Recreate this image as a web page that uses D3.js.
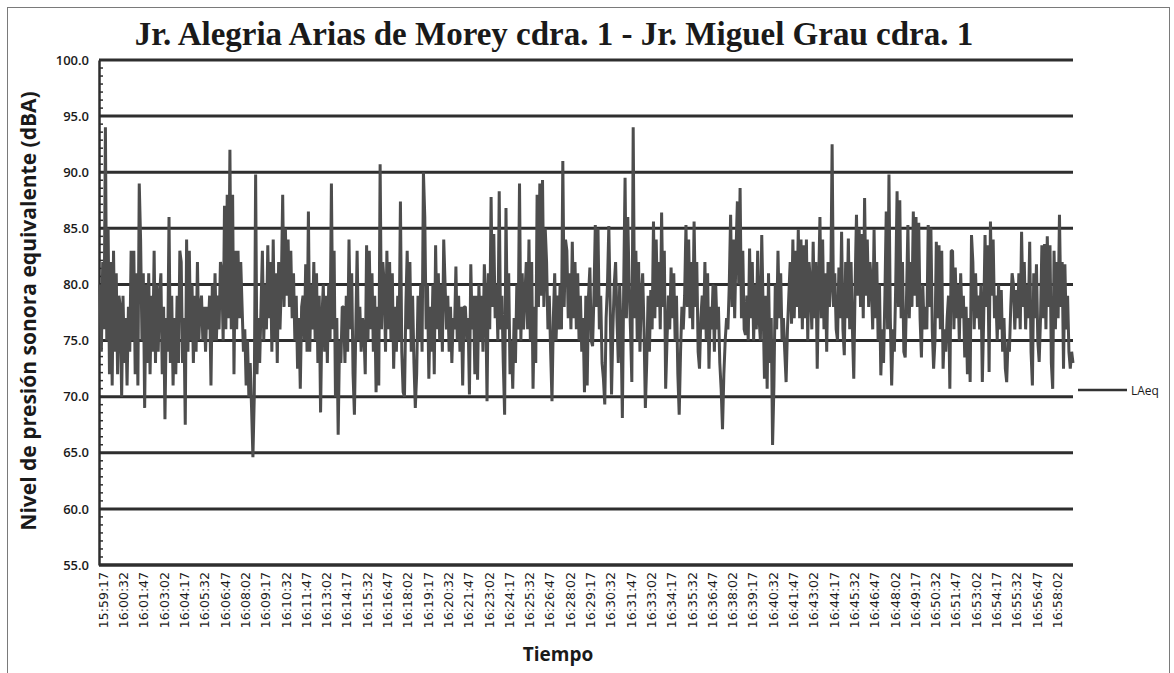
<!DOCTYPE html>
<html>
<head>
<meta charset="utf-8">
<script src="https://cdn.jsdelivr.net/npm/d3@7/dist/d3.min.js"></script>
<style>
  body { margin: 0; background: #fff; }
  svg { display: block; }
</style>
</head>
<body>
<div id="viz"></div>
<script>
const OUTER_WIDTH = 1174;
const OUTER_HEIGHT = 673;
const PLOT = { left: 99, right: 1073, top: 60, bottom: 565 };

const chartTitle = 'Jr. Alegria Arias de Morey cdra. 1 - Jr. Miguel Grau cdra. 1';
const seriesName = 'LAeq';
const yTicks = [55, 60, 65, 70, 75, 80, 85, 90, 95, 100];

// one label every 15 readings (75 s)
const tickLabels = [
  '15:59:17', '16:00:32', '16:01:47', '16:03:02', '16:04:17', '16:05:32', '16:06:47', '16:08:02',
  '16:09:17', '16:10:32', '16:11:47', '16:13:02', '16:14:17', '16:15:32', '16:16:47', '16:18:02',
  '16:19:17', '16:20:32', '16:21:47', '16:23:02', '16:24:17', '16:25:32', '16:26:47', '16:28:02',
  '16:29:17', '16:30:32', '16:31:47', '16:33:02', '16:34:17', '16:35:32', '16:36:47', '16:38:02',
  '16:39:17', '16:40:32', '16:41:47', '16:43:02', '16:44:17', '16:45:32', '16:46:47', '16:48:02',
  '16:49:17', '16:50:32', '16:51:47', '16:53:02', '16:54:17', '16:55:32', '16:56:47', '16:58:02'
];
const LABEL_EVERY = 15;

// LAeq readings (dBA), one row per label interval
const laeq = [
  80, 74, 82, 76, 94, 75, 85, 72, 82, 71, 83, 74, 81, 72, 79,
  78, 70, 79, 73, 77, 71, 78, 74, 83, 75, 83, 72, 81, 71, 89,
  84, 75, 81, 69, 80, 73, 81, 72, 79, 74, 83, 73, 80, 74, 79,
  81, 72, 78, 68, 77, 74, 86, 73, 79, 71, 77, 72, 79, 73, 83,
  82, 73, 77, 67.5, 84, 74, 83, 75, 80, 73, 79, 74, 82, 75, 78,
  79, 75, 78, 74, 78, 76, 79, 71, 80, 75, 81, 75, 79, 76, 82,
  81, 75, 87, 76, 88, 77, 92, 76, 88, 72, 83, 76, 83, 77, 82,
  78, 74, 76, 71, 75, 70, 73, 69, 64.6, 70, 89.8, 72, 77, 73, 78,
  83, 75, 80, 76, 83.5, 77, 82, 74, 84, 75, 81, 73, 82, 76, 80,
  88, 78, 85, 79, 84, 78, 83, 77, 81, 75, 79, 72.5, 77, 70.7, 78,
  79, 75, 81.8, 74, 86.5, 74, 80, 76, 82, 75, 81, 73, 79, 68.6, 77,
  80, 74, 79, 73, 80, 75, 89, 76, 83, 70, 77, 66.6, 75, 73, 78,
  78, 73, 79, 74, 84, 76, 81, 72, 68.4, 76, 83, 75, 78, 74, 77,
  76, 72, 83.5, 75, 83, 76, 81, 74, 79, 70.4, 78, 71, 90.7, 76, 82,
  80, 74, 83, 76, 82, 75, 81, 72.5, 78, 74, 79, 75, 87.4, 74, 70.4,
  70, 78, 83, 76, 82, 74, 79, 73, 69, 72, 79, 75, 80, 74, 90,
  86, 76, 80, 71.6, 78, 74, 80, 72, 83.5, 76, 81, 75, 80, 74, 84,
  80, 76, 79, 74, 78, 73, 77, 76, 81.6, 75, 79, 74, 78, 71, 78,
  78, 75, 77, 70.2, 81.8, 76, 79, 72, 79, 71.5, 80, 75, 79, 74, 81.8,
  79, 69.6, 81, 76, 87.8, 78, 84.5, 77, 80, 75, 88.3, 76, 79, 73, 68.4,
  86.8, 76, 81, 72, 75, 70.7, 77, 73, 80, 76, 89, 75, 81, 76, 79,
  82, 76, 84, 75, 82, 70.7, 78, 73, 88, 78, 89, 79, 89.3, 78, 85,
  82, 76, 79, 74, 69.6, 77, 81, 75, 79, 76, 80, 76, 91, 78, 84,
  83, 77, 81, 76, 83.8, 77, 82, 76, 81, 75, 79, 74, 77, 70.4, 79,
  71, 79, 81.5, 75, 74.5, 79, 85.3, 78, 85, 76, 79, 73, 71.6, 69.3, 77,
  80, 85.2, 78, 70.2, 76, 80, 82, 77, 73, 80, 76, 68.1, 80, 89.5, 77,
  86, 80, 76, 71.3, 94, 77, 83, 75, 82, 74, 79, 81, 76, 69, 73,
  79, 74, 79.5, 76, 85.6, 77, 84, 78, 82, 76, 86.4, 78, 83, 70.7, 75,
  79, 76, 81.5, 77, 81, 75, 79, 72, 68.4, 74, 78, 76, 79, 85.3, 78,
  84, 77, 82, 76, 85.6, 78, 82, 74, 72.5, 77, 79, 76, 82, 75, 81,
  72.5, 78, 76, 80, 74, 79.9, 76, 78, 73, 70.7, 67.1, 72, 75, 77, 76,
  80, 86.2, 78, 84, 77, 83, 87.4, 80, 88.6, 77, 83, 76, 75.5, 79, 75,
  83.2, 77, 82, 75, 80, 76, 83, 77, 75, 84.4, 78, 71.6, 79, 70.7, 81,
  73, 77, 65.7, 71, 80, 76, 83, 77, 81, 75, 77, 74, 71.3, 76, 79,
  82, 76.5, 84, 77, 83, 78, 84.9, 77, 84, 76, 83.5, 77, 84, 75, 82,
  80, 76, 83.8, 77, 82, 72.5, 80, 86, 77, 84, 76, 81, 74, 82, 78,
  80, 92.5, 78, 81, 76, 75, 81.5, 77, 84.7, 76, 73.7, 82, 77, 84.1, 76,
  82, 76, 71.6, 80, 86.2, 79, 85, 78, 84.5, 77, 87.7, 79, 84, 78, 82,
  80, 76, 84.9, 77, 82, 75, 80, 71.9, 76, 73, 79, 86.5, 76, 89.8, 77,
  71, 76, 74, 80, 88.3, 78, 87.5, 77, 82, 74, 73.5, 79, 85.3, 77, 82,
  78, 86.5, 79, 86, 78, 85.5, 77, 73.5, 80, 76, 78, 76, 85.3, 78, 85,
  76, 72.5, 75, 83.8, 77, 83.5, 76, 83, 72.5, 76, 74, 77, 79, 70.7, 83,
  83, 76, 81.5, 77, 80, 75, 81, 77, 79, 73.5, 78, 72, 77, 71.3, 84.4,
  82, 76, 81, 77, 79, 76, 80, 71.3, 77, 84.4, 78, 83.5, 72.2, 85.6, 79,
  84, 77, 79, 75, 80, 76, 79.5, 74, 77, 72.5, 71.3, 75, 74, 78, 81,
  80, 76, 79.5, 77, 81, 76, 84.7, 78, 82, 76, 80, 77, 83.8, 74, 71,
  81, 77, 81.8, 75, 73.1, 77, 83.5, 77, 83.6, 76, 84.3, 78, 83.5, 73, 70.7,
  83, 76, 82, 77, 86.2, 78, 82, 72.5, 81.8, 76, 79, 74, 72.5, 74, 73
];

const svg = d3.select('#viz').append('svg')
  .attr('width', OUTER_WIDTH)
  .attr('height', OUTER_HEIGHT);

// chart area border
svg.append('rect')
  .attr('x', 7.5).attr('y', 7.5)
  .attr('width', 1162).attr('height', 700)
  .attr('fill', 'none')
  .attr('stroke', '#7a7a7a')
  .attr('stroke-width', 1);

const x = d3.scaleLinear()
  .domain([0, laeq.length - 1])
  .range([PLOT.left + 1, PLOT.right]);

const y = d3.scaleLinear()
  .domain([55, 100])
  .range([PLOT.bottom, PLOT.top]);

// horizontal gridlines
svg.append('g')
  .attr('class', 'grid')
  .selectAll('line')
  .data(yTicks)
  .join('line')
  .attr('x1', PLOT.left)
  .attr('x2', PLOT.right)
  .attr('y1', d => y(d))
  .attr('y2', d => y(d))
  .attr('stroke', '#2e2e2e')
  .attr('stroke-width', 3);

// y axis
const yAxis = svg.append('g')
  .attr('class', 'yaxis')
  .attr('transform', `translate(${PLOT.left}, 0)`)
  .call(d3.axisLeft(y).tickValues(yTicks).tickSize(0).tickPadding(10).tickFormat(d3.format('.1f')));
yAxis.select('.domain').attr('stroke', '#2e2e2e').attr('stroke-width', 2.5);
yAxis.selectAll('text')
  .attr('fill', '#1a1a1a')
  .style('font-family', '"Open Sans", sans-serif')
  .style('font-weight', 600)
  .style('font-size', '13px');

// minor ticks on the value axis
svg.append('g')
  .attr('class', 'minor')
  .selectAll('line')
  .data(d3.range(55, 100, 5 / 7))
  .join('line')
  .attr('x1', PLOT.left)
  .attr('x2', PLOT.left + 4)
  .attr('y1', d => y(d))
  .attr('y2', d => y(d))
  .attr('stroke', '#2e2e2e')
  .attr('stroke-width', 1.5);

// series
svg.append('path')
  .datum(laeq)
  .attr('fill', 'none')
  .attr('stroke', '#4d4d4d')
  .attr('stroke-width', 3)
  .attr('stroke-linejoin', 'bevel')
  .attr('d', d3.line()
    .x((d, i) => x(i))
    .y(d => y(d)));

// x axis
const xAxis = svg.append('g')
  .attr('class', 'xaxis')
  .attr('transform', `translate(0, ${PLOT.bottom})`)
  .call(d3.axisBottom(x)
    .tickValues(tickLabels.map((t, i) => i * LABEL_EVERY))
    .tickSize(0)
    .tickFormat(d => tickLabels[d / LABEL_EVERY]));
xAxis.select('.domain')
  .attr('d', `M${PLOT.left},0H${PLOT.right}`)
  .attr('stroke', '#2e2e2e')
  .attr('stroke-width', 3);
xAxis.selectAll('text')
  .attr('transform', 'rotate(-90)')
  .attr('x', -7)
  .attr('y', 3)
  .attr('dy', '0.35em')
  .attr('text-anchor', 'end')
  .attr('fill', '#1a1a1a')
  .style('font-family', '"DejaVu Sans", sans-serif')
  .style('font-size', '12.5px');

// title
svg.append('text')
  .attr('x', 554)
  .attr('y', 45)
  .attr('text-anchor', 'middle')
  .style('font-family', '"Liberation Serif", serif')
  .style('font-weight', 'bold')
  .style('font-size', '33px')
  .attr('fill', '#1a1a1a')
  .text(chartTitle);

// axis titles
svg.append('text')
  .attr('transform', 'translate(36, 311) rotate(-90)')
  .attr('text-anchor', 'middle')
  .style('font-family', '"Open Sans", sans-serif')
  .style('font-weight', 'bold')
  .style('font-size', '21px')
  .attr('fill', '#1a1a1a')
  .text('Nivel de presión sonora equivalente (dBA)');

svg.append('text')
  .attr('x', 558)
  .attr('y', 661)
  .attr('text-anchor', 'middle')
  .style('font-family', '"Open Sans", sans-serif')
  .style('font-weight', 'bold')
  .style('font-size', '19px')
  .attr('fill', '#1a1a1a')
  .text('Tiempo');

// legend
const legend = svg.append('g').attr('class', 'legend');
legend.append('line')
  .attr('x1', 1078).attr('x2', 1127)
  .attr('y1', 390).attr('y2', 390)
  .attr('stroke', '#333')
  .attr('stroke-width', 2.5);
legend.append('text')
  .attr('x', 1131)
  .attr('y', 394.5)
  .style('font-family', '"Open Sans", sans-serif')
  .style('font-size', '12px')
  .attr('fill', '#1a1a1a')
  .text(seriesName);
</script>
</body>
</html>
